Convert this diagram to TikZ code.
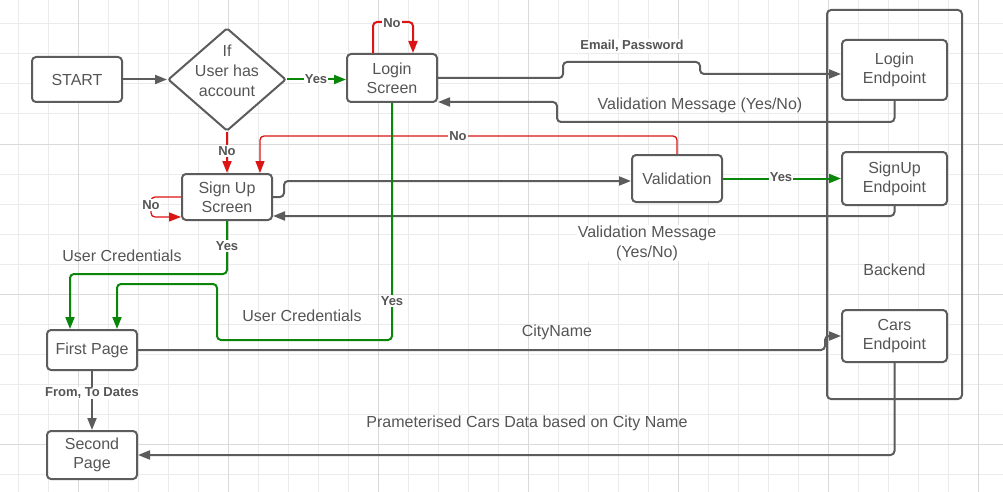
\documentclass[tikz,border=0pt]{standalone}
\usepackage{fontspec}
\setmainfont{Liberation Sans}
\usetikzlibrary{shapes.geometric,arrows.meta,calc}
\definecolor{ln}{HTML}{5C5C5C}
\definecolor{tx}{HTML}{555555}
\definecolor{gr}{HTML}{0A870A}
\definecolor{rd}{HTML}{DC1414}
\definecolor{gridl}{HTML}{EBEBEB}
\definecolor{gridd}{HTML}{DADADA}
\begin{document}
\begin{tikzpicture}[x=1pt,y=-1pt,
 box/.style={draw=ln, line width=2pt, rounded corners=4pt, text=tx, font=\fontsize{16}{19}\selectfont, align=center, inner sep=0pt},
 conn/.style={draw=ln, line width=2pt, rounded corners=4pt},
 gconn/.style={draw=gr, line width=2pt, rounded corners=4pt},
 rconn/.style={draw=rd, line width=2pt, rounded corners=4pt},
 rthin/.style={draw=rd, line width=1.3pt, rounded corners=4pt},
 arrowhd/.style={-{Triangle[length=12pt,width=9pt]}},
 blab/.style={font=\bfseries\fontsize{13}{15}\selectfont, text=tx, fill=white, inner sep=1pt},
 nlab/.style={font=\fontsize{16}{20}\selectfont, text=tx, align=center, inner sep=1pt},
 gridline/.style={draw=gridl, line width=1pt},
 gridmajor/.style={draw=gridd, line width=1pt}
]
\useasboundingbox (0,0) rectangle (1003,492);
\fill[white] (0,0) rectangle (1003,492);
\foreach \x in {18,48,...,1000} \draw[gridline] (\x,0) -- (\x,492);
\foreach \y in {24,54,...,490} \draw[gridline] (0,\y) -- (1003,\y);
\foreach \x in {78,228,...,1000} \draw[gridmajor] (\x,0) -- (\x,492);
\foreach \y in {144,294,444} \draw[gridmajor] (0,\y) -- (1003,\y);

% nodes
\node[box, fill=white, minimum width=90pt, minimum height=45pt] (start) at (77,79.5) {START};
\node[box, shape=diamond, rounded corners=2pt, fill=white, minimum width=118pt, minimum height=103pt] (dec) at (227,79.5) {};
\node[nlab] (dectext) at (227,71) {If\\User has\\account};
\node[box, fill=white, minimum width=90pt, minimum height=48pt] (login) at (392,78) {Login\\Screen};
\node[box, minimum width=135pt, minimum height=389pt] (backend) at (894.5,204.5) {};
\node[nlab] (backendtxt) at (894.5,270) {Backend};
\node[box, fill=white, minimum width=105pt, minimum height=60pt] (le) at (894.5,70) {Login\\Endpoint};
\node[box, fill=white, minimum width=105pt, minimum height=53pt] (se) at (894.5,178.5) {SignUp\\Endpoint};
\node[box, fill=white, minimum width=105pt, minimum height=52pt] (ce) at (894.5,336) {Cars\\Endpoint};
\node[box, fill=white, minimum width=90pt, minimum height=47pt] (valid) at (677,178.5) {Validation};
\node[box, fill=white, minimum width=90pt, minimum height=46pt] (signup) at (227,197) {Sign Up\\Screen};
\node[box, fill=white, minimum width=90pt, minimum height=40pt] (first) at (92,350) {First Page};
\node[box, fill=white, minimum width=90pt, minimum height=48pt] (second) at (92,455) {Second\\Page};

% connectors
\draw[conn, arrowhd] (start.east) -- (dec.west);
\draw[gconn, arrowhd] (dec.east) -- (dec.east -| login.west);
\draw[rconn, arrowhd] ($(login.north)+(-19,0)$) -- ++(0,-31) -| ($(login.north)+(21,0)$);
\draw[conn, arrowhd] (login.east) -- (563,78) |- (700,62) |- ($(le.west)+(0,4)$);
\draw[conn, arrowhd] (le.south) |- (557,122) |- ($(login.south east)+(0,-1)$);
\draw[rconn, arrowhd] (dec.south) -- (signup.north);
\draw[rthin, arrowhd] (valid.north) |- ($(signup.north)+(33,-37)$) -- ($(signup.north)+(33,0)$);
\draw[conn, arrowhd] (signup.east) -- ++(11,0) |- ($(valid.west)+(0,2.5)$);
\draw[conn, arrowhd] (se.south) |- ($(signup.east)+(0,19)$);
\draw[gconn, arrowhd] (valid.east) -- (valid.east -| se.west);
\draw[rthin, arrowhd] (signup.west) -- ++(-30,0) |- ($(signup.west)+(0,20)$);
\draw[gconn, arrowhd] (signup.south) |- ($(first.north)+(-22,-55)$) -- ($(first.north)+(-22,0)$);
\draw[gconn, arrowhd] (login.south) |- (217,340) |- ($(first.north)+(25,-45)$) -- ($(first.north)+(25,0)$);
\draw[conn, arrowhd] (first.east) -- (825,350) |- (ce.west);
\draw[conn, arrowhd] (first.south) -- (second.north);
\draw[conn, arrowhd] (ce.south) |- (second.east);

% labels
\node[blab] (lyes1) at (316,79) {Yes};
\node[blab] (lno1) at (392,23) {No};
\node[blab] (lemail) at (632,46) {Email, Password};
\node[nlab] (lvm1) at (700,105) {Validation Message (Yes/No)};
\node[blab] (lno2) at (458,136) {No};
\node[blab] (lno3) at (227,151) {No};
\node[blab] (lyes2) at (781,177) {Yes};
\node[blab] (lno4) at (151,205) {No};
\node[nlab, fill=white] (lvm2) at (647,243) {Validation Message\\(Yes/No)};
\node[blab] (lyes3) at (227,246) {Yes};
\node[nlab] (luc1) at (122,256) {User Credentials};
\node[blab] (lyes4) at (392,301) {Yes};
\node[nlab] (luc2) at (302,316) {User Credentials};
\node[nlab] (lcity) at (557,332) {CityName};
\node[blab] (ldates) at (92,393) {From, To Dates};
\node[nlab] (lcars) at (527,423) {Prameterised Cars Data based on City Name};
\end{tikzpicture}
\end{document}
